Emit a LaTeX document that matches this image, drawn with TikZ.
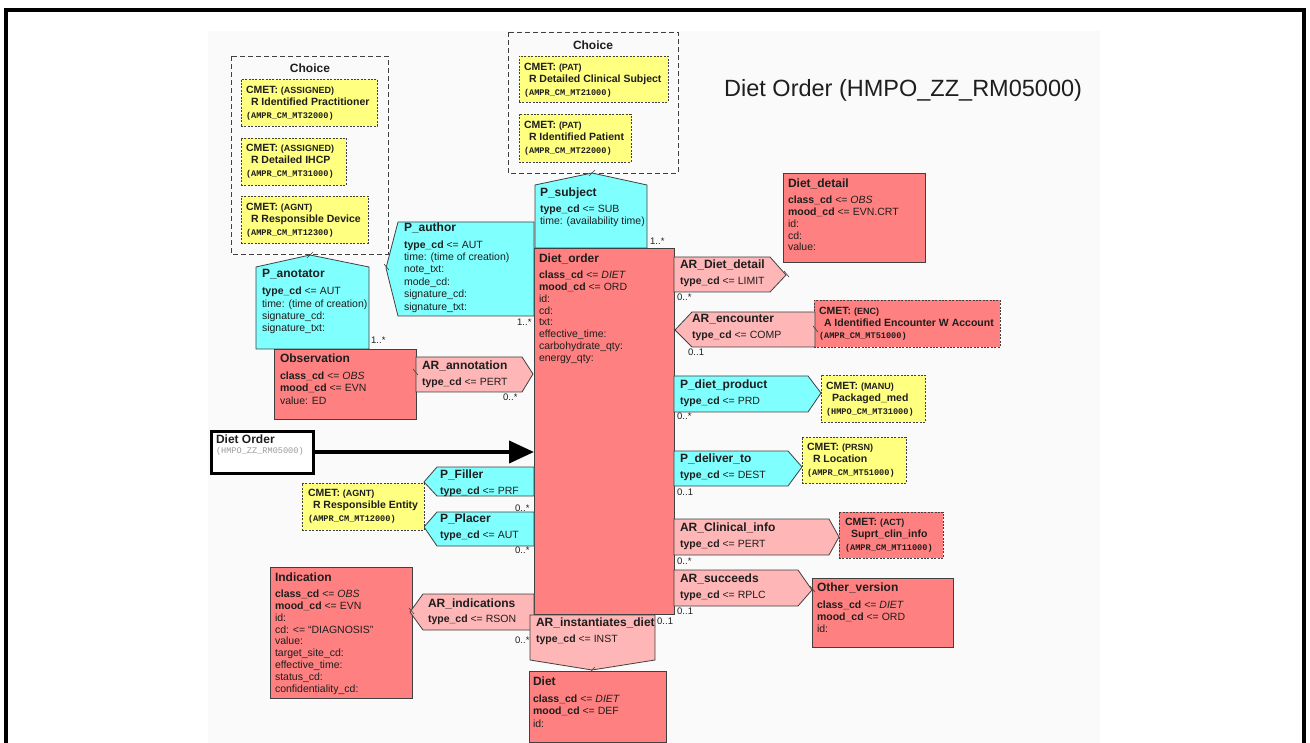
\documentclass[tikz,border=0pt]{standalone}
\usepackage{fontspec}
\setmainfont{Liberation Sans}
\newfontfamily\codefont{Liberation Mono}
\usetikzlibrary{arrows.meta}

\definecolor{partF}{HTML}{80FFFF}
\definecolor{actF}{HTML}{FF8080}
\definecolor{relF}{HTML}{FFB6B6}
\definecolor{cmetY}{HTML}{FFFF80}
\definecolor{edge}{HTML}{404040}
\definecolor{ink}{HTML}{1E1E1E}
\definecolor{paleInk}{HTML}{9A9A9A}

% header, attribute name, CMET lines, code strings
\newcommand{\hd}[1]{{\fontsize{12}{12}\selectfont\bfseries #1}}
\newcommand{\kw}[1]{\textbf{#1}}
\newcommand{\cm}[1]{\textbf{CMET:} {\fontsize{9}{10}\selectfont\bfseries #1}}
\newcommand{\code}[1]{{\codefont\bfseries\fontsize{8.6}{10}\selectfont #1}}

\tikzset{
  part/.style={fill=partF, draw=edge, line width=0.8pt, line join=miter},
  act/.style={fill=actF, draw=edge, line width=0.8pt},
  rel/.style={fill=relF, draw=edge, line width=0.8pt, line join=miter},
  boxat/.style={anchor=north west, inner sep=0pt, outer sep=0pt},
  cmety/.style={boxat, fill=cmetY, draw=edge, line width=0.8pt, dash pattern=on 2pt off 1.4pt},
  cmetr/.style={boxat, fill=actF, draw=edge, line width=0.8pt, dash pattern=on 2pt off 1.4pt},
  choicebox/.style={draw=edge, line width=0.9pt, dash pattern=on 5pt off 3pt},
  txt/.style={anchor=north west, inner sep=0pt, outer sep=0pt, align=left, text=ink,
              font=\fontsize{10.5}{12.1}\selectfont},
  ctxt/.style={txt, font=\fontsize{10.5}{12.4}\selectfont},
  mult/.style={anchor=base west, inner sep=0pt, text=ink, font=\fontsize{9.5}{10}\selectfont},
  tick/.style={draw=edge, line width=0.6pt},
  choicelbl/.style={inner sep=0pt, text=ink, font=\fontsize{12}{12}\selectfont\bfseries},
}

\begin{document}
\begin{tikzpicture}[x=1pt, y=-1pt]
\useasboundingbox (0,0) rectangle (1310,743);
\clip (0,0) rectangle (1310,743);

% page
\fill[white] (0,0) rectangle (1310,743);
\fill[black!2] (208,31) rectangle (1100,743);
\draw[line width=4pt, black] (6,10) rectangle (1304,800);

% title
\node[anchor=base west, inner sep=0pt, text=ink, font=\fontsize{23.5}{26}\selectfont] (title) at (724,96.4) {Diet Order (HMPO\_ZZ\_RM05000)};

% ---------- author choice ----------
\draw[choicebox] (231,56) rectangle (388,254);
\node[choicelbl] (choiceA) at (310,68) {Choice};
\node[cmety, minimum width=136pt, minimum height=47pt] (cA1) at (241,79) {};
\node[ctxt] (tA1) at (246,86.2) {\cm{(ASSIGNED)}\\\hspace*{5pt}\kw{R Identified Practitioner}\\\code{(AMPR\_CM\_MT32000)}};
\node[cmety, minimum width=105pt, minimum height=47pt] (cA2) at (241,138) {};
\node[ctxt] (tA2) at (246,144.2) {\cm{(ASSIGNED)}\\\hspace*{5pt}\kw{R Detailed IHCP}\\\code{(AMPR\_CM\_MT31000)}};
\node[cmety, minimum width=127pt, minimum height=47pt] (cA3) at (241,196) {};
\node[ctxt] (tA3) at (246,203.2) {\cm{(AGNT)}\\\hspace*{5pt}\kw{R Responsible Device}\\\code{(AMPR\_CM\_MT12300)}};

% ---------- subject choice ----------
\draw[choicebox] (508,32) rectangle (678,173);
\node[choicelbl] (choiceS) at (593,45) {Choice};
\node[cmety, minimum width=149pt, minimum height=46pt] (cS1) at (519,56) {};
\node[ctxt] (tS1) at (524,63.2) {\cm{(PAT)}\\\hspace*{5pt}\kw{R Detailed Clinical Subject}\\\code{(AMPR\_CM\_MT21000)}};
\node[cmety, minimum width=112pt, minimum height=48pt] (cS2) at (519,114) {};
\node[ctxt] (tS2) at (524,121.2) {\cm{(PAT)}\\\hspace*{5pt}\kw{R Identified Patient}\\\code{(AMPR\_CM\_MT22000)}};

% ---------- central act ----------
\node[act, boxat, minimum width=140pt, minimum height=366pt] (dietorder) at (534,248) {};
\node[txt, font=\fontsize{10.5}{11.8}\selectfont] (tDO) at (539,253.7) {\hd{Diet\_order}\\[4.6pt]\kw{class\_cd} <= \textit{DIET}\\\kw{mood\_cd} <= ORD\\id:\\cd:\\txt:\\effective\_time:\\carbohydrate\_qty:\\energy\_qty:};

% P_subject
\draw[part] (535,248) -- (535,185) -- (592,173) -- (647,185) -- (647,248) -- cycle;
\draw[tick] (589,176) -- (595,170);
\node[txt] (tPS) at (540,187.7) {\hd{P\_subject}\\[4.2pt]\kw{type\_cd} <= SUB\\time: (availability time)};
\node[mult] (mPS) at (650,245) {1..*};

% P_author
\draw[part] (534,222) -- (398,222) -- (386,268) -- (398,316) -- (534,316) -- cycle;
\draw[tick] (384,264) -- (389,270);
\node[txt, font=\fontsize{10.5}{12.4}\selectfont] (tPA) at (404,222.7) {\hd{P\_author}\\[4.4pt]\kw{type\_cd} <= AUT\\time: (time of creation)\\note\_txt:\\mode\_cd:\\signature\_cd:\\signature\_txt:};
\node[mult] (mPA) at (517,326) {1..*};

% P_anotator
\draw[part] (256,349) -- (256,267) -- (310,255) -- (369,267) -- (369,349) -- cycle;
\draw[tick] (307,258) -- (313,252);
\node[txt, font=\fontsize{10.5}{12.4}\selectfont] (tPN) at (262,269.7) {\hd{P\_anotator}\\[4.4pt]\kw{type\_cd} <= AUT\\time: (time of creation)\\signature\_cd:\\signature\_txt:};
\node[mult] (mPN) at (371,344) {1..*};

% Observation + AR_annotation
\node[act, boxat, minimum width=142pt, minimum height=70pt] (obs) at (274,349) {};
\node[txt, font=\fontsize{10.5}{12.6}\selectfont] (tOB) at (280,353.7) {\hd{Observation}\\[4.4pt]\kw{class\_cd} <= \textit{OBS}\\\kw{mood\_cd} <= EVN\\value: ED};
\draw[rel] (416,357) -- (522,357) -- (533,374) -- (522,392) -- (416,392) -- cycle;
\draw[tick] (413,369) -- (418,375);
\node[txt] (tAN) at (422,360.7) {\hd{AR\_annotation}\\[3.6pt]\kw{type\_cd} <= PERT};
\node[mult] (mAN) at (503,401) {0..*};

% entry point
\node[draw=black, line width=3pt, fill=white, boxat, minimum width=102pt, minimum height=42pt] (entry) at (211,431) {};
\node[txt] (tEN) at (216,434.7) {\hd{Diet Order}\\[-1.5pt]{\codefont\fontsize{8.6}{10}\selectfont\color{paleInk}(HMPO\_ZZ\_RM05000)}};
\coordinate (entryOut) at (313,452);
\draw[line width=4pt, -{Triangle[length=25pt 0, width=22pt 0]}] (entryOut) -- (entryOut -| dietorder.west);

% P_Filler, P_Placer and the responsible entity
\draw[part] (534,467) -- (437,467) -- (424,482) -- (437,496) -- (534,496) -- cycle;
\node[txt] (tPF) at (440,469.7) {\hd{P\_Filler}\\[3.6pt]\kw{type\_cd} <= PRF};
\node[mult] (mPF) at (515,511) {0..*};
\draw[part] (534,512) -- (437,512) -- (424,527) -- (437,546) -- (534,546) -- cycle;
\node[txt] (tPP) at (440,513.7) {\hd{P\_Placer}\\[3.6pt]\kw{type\_cd} <= AUT};
\node[mult] (mPP) at (515,553) {0..*};
\node[cmety, minimum width=122pt, minimum height=47pt] (cRE) at (302,483) {};
\node[ctxt] (tRE) at (308,489.2) {\cm{(AGNT)}\\\hspace*{5pt}\kw{R Responsible Entity}\\\code{(AMPR\_CM\_MT12000)}};

% Indication + AR_indications
\node[act, boxat, minimum width=142pt, minimum height=131pt] (indic) at (270,567) {};
\node[txt, font=\fontsize{10.5}{11.8}\selectfont] (tIN) at (275,572.7) {\hd{Indication}\\[4.6pt]\kw{class\_cd} <= \textit{OBS}\\\kw{mood\_cd} <= EVN\\id:\\cd: <= “DIAGNOSIS”\\value:\\target\_site\_cd:\\effective\_time:\\status\_cd:\\confidentiality\_cd:};
\draw[rel] (534,594) -- (423,594) -- (410,612) -- (423,630) -- (534,630) -- cycle;
\draw[tick] (409,608) -- (414,614);
\node[txt] (tAI) at (428,598.7) {\hd{AR\_indications}\\[3.2pt]\kw{type\_cd} <= RSON};
\node[mult] (mAI) at (515,643) {0..*};

% AR_instantiates_diet + Diet
\draw[rel] (530,615) -- (655,615) -- (655,660) -- (592,670) -- (530,660) -- cycle;
\draw[tick] (589,673) -- (595,667);
\node[txt] (tIDt) at (536,617.7) {\hd{AR\_instantiates\_diet}\\[3.6pt]\kw{type\_cd} <= INST};
\node[mult] (mID) at (657,624) {0..1};
\node[act, boxat, minimum width=137pt, minimum height=71pt] (diet) at (529,671) {};
\node[txt, font=\fontsize{10.5}{12.6}\selectfont] (tDI) at (533,676.7) {\hd{Diet}\\[4.2pt]\kw{class\_cd} <= \textit{DIET}\\\kw{mood\_cd} <= DEF\\id:};

% ---------- right side ----------
% Diet_detail
\node[act, boxat, minimum width=142pt, minimum height=89pt] (detail) at (783,173) {};
\node[txt, font=\fontsize{10.5}{11.8}\selectfont] (tDD) at (788,178.7) {\hd{Diet\_detail}\\[4.6pt]\kw{class\_cd} <= \textit{OBS}\\\kw{mood\_cd} <= EVN.CRT\\id:\\cd:\\value:};
\draw[rel] (674,257) -- (770,257) -- (786,275) -- (770,292) -- (674,292) -- cycle;
\draw[tick] (784,271) -- (789,277);
\node[txt] (tAD) at (680,259.7) {\hd{AR\_Diet\_detail}\\[3.6pt]\kw{type\_cd} <= LIMIT};
\node[mult] (mAD) at (677,301) {0..*};

% AR_encounter + encounter CMET
\node[cmetr, minimum width=186pt, minimum height=47pt] (cEN) at (814,300) {};
\node[ctxt, font=\fontsize{10.5}{12.2}\selectfont] (tEC) at (819,307.2) {\cm{(ENC)}\\\hspace*{5pt}\kw{A Identified Encounter W Account}\\\code{(AMPR\_CM\_MT51000)}};
\draw[rel] (815,312) -- (692,312) -- (675,330) -- (692,347) -- (815,347) -- cycle;
\draw[tick] (813,326) -- (818,332);
\node[txt] (tAE) at (692,314.7) {\hd{AR\_encounter}\\[3.6pt]\kw{type\_cd} <= COMP};
\node[mult] (mAE) at (688,356) {0..1};

% P_diet_product + packaged med
\draw[part] (674,376) -- (808,376) -- (821,393) -- (808,412) -- (674,412) -- cycle;
\node[txt] (tDP) at (680,379.7) {\hd{P\_diet\_product}\\[3.6pt]\kw{type\_cd} <= PRD};
\node[mult] (mDP) at (677,420) {0..*};
\node[cmety, minimum width=104pt, minimum height=47pt] (cPM) at (821,375) {};
\node[ctxt] (tPM) at (826,382.2) {\cm{(MANU)}\\\hspace*{6pt}\kw{Packaged\_med}\\\code{(HMPO\_CM\_MT31000)}};

% P_deliver_to + location
\draw[part] (674,451) -- (788,451) -- (802,467) -- (788,486) -- (674,486) -- cycle;
\node[txt] (tDL) at (680,453.7) {\hd{P\_deliver\_to}\\[3.6pt]\kw{type\_cd} <= DEST};
\node[mult] (mDL) at (677,495) {0..1};
\node[cmety, minimum width=104pt, minimum height=46pt] (cLO) at (802,437) {};
\node[ctxt] (tLO) at (807,443.2) {\cm{(PRSN)}\\\hspace*{6pt}\kw{R Location}\\\code{(AMPR\_CM\_MT51000)}};

% AR_Clinical_info + supporting info
\draw[rel] (674,519) -- (829,519) -- (839,537) -- (829,555) -- (674,555) -- cycle;
\node[txt] (tCI) at (680,522.7) {\hd{AR\_Clinical\_info}\\[3.6pt]\kw{type\_cd} <= PERT};
\node[mult] (mCI) at (677,564) {0..*};
\node[cmetr, minimum width=104pt, minimum height=46pt] (cSC) at (839,512) {};
\node[ctxt] (tSC) at (845,518.2) {\cm{(ACT)}\\\hspace*{6pt}\kw{Suprt\_clin\_info}\\\code{(AMPR\_CM\_MT11000)}};

% AR_succeeds + Other_version
\draw[rel] (674,570) -- (798,570) -- (812,590) -- (798,606) -- (674,606) -- cycle;
\node[txt] (tSU) at (680,573.7) {\hd{AR\_succeeds}\\[3.6pt]\kw{type\_cd} <= RPLC};
\node[mult] (mSU) at (677,614) {0..1};
\node[act, boxat, minimum width=141pt, minimum height=69pt] (other) at (812,578) {};
\draw[tick] (810,586) -- (815,592);
\node[txt, font=\fontsize{10.5}{12.2}\selectfont] (tOV) at (817,582.7) {\hd{Other\_version}\\[4.6pt]\kw{class\_cd} <= \textit{DIET}\\\kw{mood\_cd} <= ORD\\id:};

\end{tikzpicture}
\end{document}
